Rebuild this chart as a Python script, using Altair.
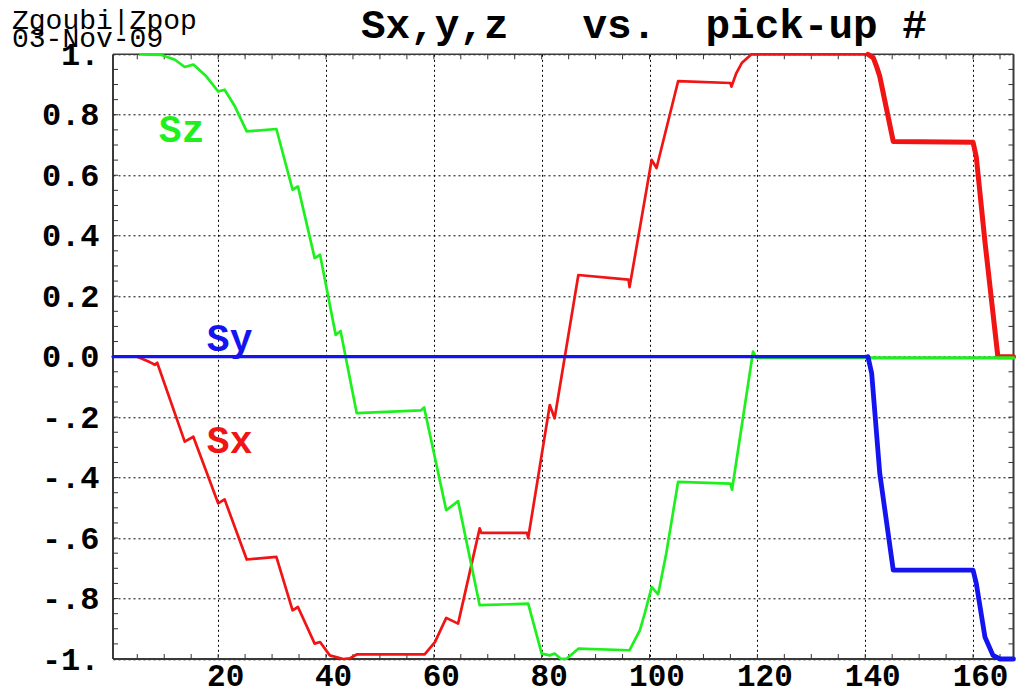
import altair as alt
import pandas as pd

# Spin components along the pick-up sequence
SZ_X = [5.6, 9.5, 12.0, 13.8, 14.6, 15.4, 17.8, 20.0, 21.2, 23.1, 25.3, 30.8, 33.8, 34.8,
        37.9, 38.9, 41.8, 42.7, 45.7, 57.6, 58.2, 62.3, 64.5, 68.5, 77.5, 79.0, 80.0, 81.5,
        82.4, 83.6, 84.6, 86.8, 96.3, 98.2, 99.1, 100.4, 101.6, 103.1, 105.3, 115.0, 115.3,
        119.2, 119.8, 140.5, 167.5]
SZ_Y = [1.0, 0.998, 0.982, 0.958, 0.962, 0.966, 0.927, 0.877, 0.883, 0.828, 0.745, 0.753,
        0.552, 0.563, 0.326, 0.337, 0.072, 0.085, -0.187, -0.178, -0.168, -0.508, -0.478,
        -0.822, -0.817, -0.916, -0.982, -0.988, -0.982, -1.0, -0.999, -0.966, -0.971,
        -0.905, -0.85, -0.762, -0.786, -0.651, -0.414, -0.42, -0.44, 0.017, -0.004,
        -0.004, -0.004]

SX_X = [5.0, 7.3, 8.3, 8.7, 13.8, 15.4, 20.0, 21.2, 25.3, 30.8, 33.8, 34.8, 37.9, 38.9,
        40.7, 43.2, 44.4, 45.7, 58.3, 60.2, 62.3, 64.5, 68.5, 68.8, 77.3, 77.5, 81.5, 82.4,
        86.8, 96.1, 96.3, 100.4, 101.3, 105.3, 115.0, 115.2, 116.1, 117.1, 118.9, 140.5,
        141.5, 142.1, 142.7, 145.2, 160.0, 160.6, 162.2, 164.6, 167.5]
SX_Y = [0.0, -0.018, -0.027, -0.02, -0.281, -0.265, -0.485, -0.472, -0.671, -0.662,
        -0.839, -0.828, -0.949, -0.944, -0.988, -1.0, -0.998, -0.985, -0.985, -0.944,
        -0.864, -0.883, -0.568, -0.583, -0.583, -0.6, -0.16, -0.204, 0.27, 0.255, 0.23,
        0.651, 0.624, 0.911, 0.905, 0.893, 0.938, 0.971, 1.0, 1.0, 0.988, 0.96, 0.927,
        0.712, 0.709, 0.66, 0.381, 0.0, 0.0]

SY_X = [0.5, 140.5, 141.2, 142.7, 145.2, 160.0, 160.6, 162.2, 163.7, 165.0, 167.5]
SY_Y = [0.0, 0.0, -0.055, -0.386, -0.706, -0.706, -0.75, -0.927, -0.988, -1.0, -1.0]

# Axis labels and tick positions
X_LABEL_VALUES = [20, 40, 60, 80, 100, 120, 140, 160]
Y_LABEL_VALUES = [-1.0, -0.8, -0.6, -0.4, -0.2, 0.0, 0.2, 0.4, 0.6, 0.8, 1.0]
Y_LABEL_TEXT = ["-1.", "-.8", "-.6", "-.4", "-.2", "0.0", "0.2", "0.4", "0.6", "0.8", "1."]
X_MINOR = list(range(5, 170, 5))
Y_MINOR = [round(-0.95 + 0.05 * k, 2) for k in range(39)]

# Curve name labels
LABEL_TEXT = ["Sz", "Sy", "Sx"]
LABEL_COLOR = ["#1ef01e", "#1414f0", "#f01414"]

W, H = 900.5, 604.7
MONO = "Liberation Mono"

x_axis = alt.Axis(values=X_LABEL_VALUES, grid=True, gridColor="black", gridDash=[2, 3],
                  gridWidth=1, gridOpacity=1, ticks=False, tickSize=0, domain=False,
                  labelFont=MONO, labelFontWeight="bold", labelFontSize=31,
                  labelColor="black", labelPadding=2, labelOffset=7, labelFlush=False,
                  labelOverlap=False, format="d", title=None)
y_axis = alt.Axis(values=Y_LABEL_VALUES, grid=True, gridColor="black", gridDash=[2, 3],
                  gridWidth=1, gridOpacity=1, ticks=False, tickSize=0, domain=False,
                  labelFont=MONO, labelFontWeight="bold", labelFontSize=32,
                  labelColor="black", labelPadding=14, labelFlush=False,
                  labelOverlap=False, title=None,
                  labelExpr="[" + ",".join("'%s'" % t for t in Y_LABEL_TEXT) +
                            "][round(datum.value * 5 + 5)]")

X_SCALE = alt.Scale(domain=[0.5, 167.5], nice=False, zero=False)
Y_SCALE = alt.Scale(domain=[-1, 1], nice=False, zero=False)


def xenc():
    return alt.X("x:Q", scale=X_SCALE, axis=x_axis)


def yenc():
    return alt.Y("y:Q", scale=Y_SCALE, axis=y_axis)


layers = []

# Frame around the plot area
one = pd.DataFrame({"k": [0]})
FRAME = "#3a3a3a"
layers.append(alt.Chart(one).mark_rule(color=FRAME, strokeWidth=2).encode(
    x=alt.value(0), y=alt.value(0), y2=alt.value(H)))
layers.append(alt.Chart(one).mark_rule(color=FRAME, strokeWidth=2).encode(
    x=alt.value(W), y=alt.value(0), y2=alt.value(H)))
layers.append(alt.Chart(one).mark_rule(color=FRAME, strokeWidth=1.5).encode(
    x=alt.value(0), x2=alt.value(W), y=alt.value(0)))
layers.append(alt.Chart(one).mark_rule(color=FRAME, strokeWidth=2).encode(
    x=alt.value(0), x2=alt.value(W), y=alt.value(H)))

# Inward minor ticks on all four sides
xt = alt.Chart(pd.DataFrame({"x": X_MINOR}))
yt = alt.Chart(pd.DataFrame({"y": Y_MINOR}))
TICK = "#333333"
layers.append(xt.mark_rule(color=TICK, strokeWidth=1).encode(
    x=xenc(), y=alt.value(H), y2=alt.value(H - 5)))
layers.append(xt.mark_rule(color=TICK, strokeWidth=1).encode(
    x=xenc(), y=alt.value(0), y2=alt.value(5)))
layers.append(yt.mark_rule(color=TICK, strokeWidth=1).encode(
    y=yenc(), x=alt.value(0), x2=alt.value(5)))
layers.append(yt.mark_rule(color=TICK, strokeWidth=1).encode(
    y=yenc(), x=alt.value(W), x2=alt.value(W - 5)))

# Curves: thinner before pick-up 140.5, heavier after
SPLIT = 140.5
series = [
    ("Sx", SX_X, SX_Y, "#f01414", 2.7, 5.0),
    ("Sz", SZ_X, SZ_Y, "#1ef01e", 2.7, 3.3),
    ("Sy", SY_X, SY_Y, "#1414f0", 3.2, 4.8),
]
for name, xs, ys, col, w_thin, w_thick in series:
    df = pd.DataFrame({"x": xs, "y": ys, "i": range(len(xs))})
    for part, w in ((df[df.x <= SPLIT], w_thin), (df[df.x >= SPLIT], w_thick)):
        if len(part) < 2:
            continue
        layers.append(alt.Chart(part).mark_line(color=col, strokeWidth=w,
                                                strokeJoin="round", strokeCap="round").encode(
            x=xenc(), y=yenc(), order="i:Q"))

# Curve names placed in data coordinates
lab = pd.DataFrame({"x": [9.0, 17.9, 17.9], "y": [0.711, 0.02, -0.319],
                    "t": LABEL_TEXT, "c": LABEL_COLOR})
layers.append(alt.Chart(lab).mark_text(font=MONO, fontWeight="bold", fontSize=38,
                                       align="left", baseline="alphabetic").encode(
    x=xenc(), y=yenc(), text="t:N", color=alt.Color("c:N", scale=None)))

# Title and header stamp
layers.append(alt.Chart(one).mark_text(font=MONO, fontWeight="bold", fontSize=41,
                                       align="left", baseline="alphabetic",
                                       color="black").encode(
    x=alt.value(248), y=alt.value(-16.3),
    text=alt.value("Sx,y,z\u00a0\u00a0\u00a0vs.\u00a0\u00a0pick-up\u00a0#")))
layers.append(alt.Chart(one).mark_text(font=MONO, fontSize=28, align="left",
                                       baseline="alphabetic", color="black").encode(
    x=alt.value(-101), y=alt.value(-25), text=alt.value("Zgoubi|Zpop")))
layers.append(alt.Chart(one).mark_text(font=MONO, fontSize=28, align="left",
                                       baseline="alphabetic", color="black").encode(
    x=alt.value(-101), y=alt.value(-7.6), text=alt.value("03-Nov-09")))

chart = alt.layer(*layers).properties(
    width=W, height=H,
    padding={"left": 113, "top": 54.3, "right": 5, "bottom": 35},
    autosize=alt.AutoSizeParams(type="none"),
    background="white",
).configure_view(stroke=None)

chart.save("out.html", embed_options={"renderer": "svg", "actions": False})
